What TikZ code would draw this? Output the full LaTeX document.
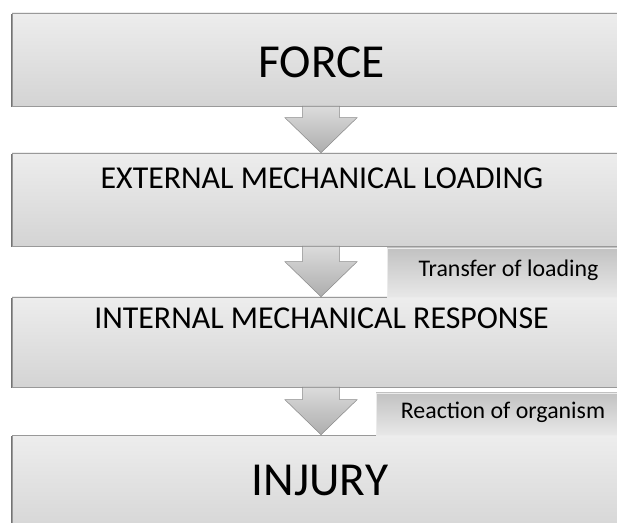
\documentclass[tikz,border=0pt]{standalone}
\usepackage{fontspec}
\setmainfont{Carlito}
\usetikzlibrary{calc,shadows,positioning}

\tikzset{
  stagebox/.style={draw=black!40, top color=black!7, bottom color=black!17, minimum width=463.5pt, inner sep=0pt,
    drop shadow={shadow xshift=-0.9pt, shadow yshift=-0.9pt, fill=black!55, opacity=1}},
  tagbox/.style={draw=black!8, top color=black!24, bottom color=black!9, inner sep=0pt, text height=0.644em, text depth=0pt},
  title/.style={inner sep=0pt, text height=0.644em, text depth=0pt, anchor=base},
  arrowbody/.style={draw=black!45, top color=black!14, bottom color=black!32, line join=miter}
}
\newcommand{\downblock}[2]{%
  \path[arrowbody] let \p1=(#1.south), \p2=(#2.north) in
    (\x1-13.9pt,\y1) -- (\x1+13.9pt,\y1) -- (\x1+13.9pt,\y2+26.25pt) -- (\x1+27pt,\y2+26.25pt)
    -- (\x1,\y2) -- (\x1-27pt,\y2+26.25pt) -- (\x1-13.9pt,\y2+26.25pt) -- cycle;}

\begin{document}
\begin{tikzpicture}[x=0.75pt,y=-0.75pt]
  \useasboundingbox (0,0) rectangle (617,523);
  \clip (0,0) rectangle (617,523);

  \node[stagebox, minimum height=69.75pt] (force) at (321,59.5) {};
  \node[stagebox, minimum height=69.75pt] (external) at (321,199.5) {};
  \node[stagebox, minimum height=67.5pt] (internal) at (321,342) {};
  \node[stagebox, minimum height=78.75pt] (injury) at (321,487.5) {};

  \node[tagbox, minimum width=182.25pt, minimum height=36.75pt] (transfer) at (508.5,272.5) {\fontsize{17.9}{17.9}\selectfont Transfer of loading};
  \node[tagbox, minimum width=190.5pt, minimum height=31.5pt] (reaction) at (503,414) {\fontsize{17.9}{17.9}\selectfont Reaction of organism};

  \node[title] (force-t) at (321.5,78) {\fontsize{35.5}{35.5}\selectfont FORCE};
  \node[title] (external-t) at (322,189) {\fontsize{23.9}{23.9}\selectfont EXTERNAL MECHANICAL LOADING};
  \node[title] (internal-t) at (321.5,329) {\fontsize{23.9}{23.9}\selectfont INTERNAL MECHANICAL RESPONSE};
  \node[title] (injury-t) at (320,495) {\fontsize{35.5}{35.5}\selectfont INJURY};

  \downblock{force}{external}
  \downblock{external}{internal}
  \downblock{internal}{injury}
\end{tikzpicture}
\end{document}
